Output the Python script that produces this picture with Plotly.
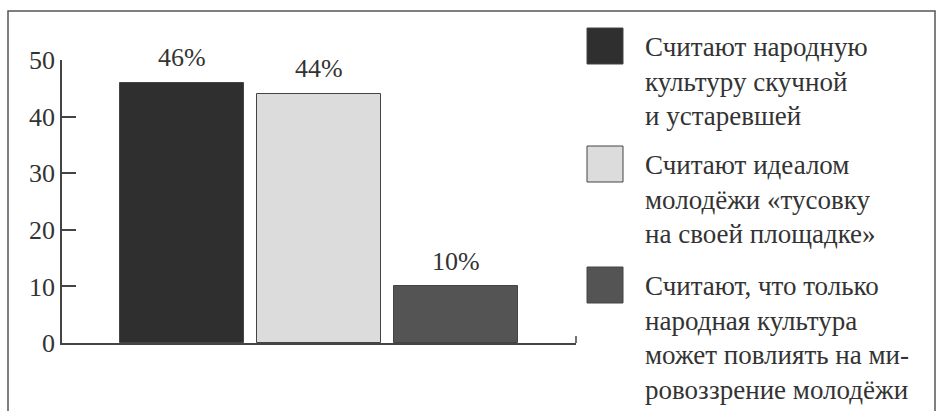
import plotly.graph_objects as go

# Survey results: share of respondents per opinion
categories = ["Считают народную культуру скучной и устаревшей",
              "Считают идеалом молодёжи «тусовку на своей площадке»",
              "Считают, что только народная культура может повлиять на мировоззрение молодёжи"]
values = [46, 44, 10]
value_labels = ["46%", "44%", "10%"]
legend_lines = [
    ["Считают народную", "культуру скучной", "и устаревшей"],
    ["Считают идеалом", "молодёжи «тусовку", "на своей площадке»"],
    ["Считают, что только", "народная культура", "может повлиять на ми-", "ровоззрение молодёжи"],
]
bar_colors = ["#2f2f2f", "#dcdcdc", "#545454"]
y_ticks = [0, 10, 20, 30, 40, 50]

FONT = "'Times New Roman', 'Liberation Serif', 'DejaVu Serif', serif"
TXT = "#333333"
W, H = 938, 411
ML, MR, MT, MB = 62, 362, 60, 68
PW, PH = W - ML - MR, H - MT - MB


def px_x(px):
    return (px - ML) / PW


def px_y(py):
    return (H - MB - py) / PH


xs = list(range(len(values)))
fig = go.Figure()
fig.add_trace(go.Bar(
    x=xs, y=values, width=0.91,
    marker=dict(color=bar_colors, line=dict(color="#444444", width=1)),
    showlegend=False, hovertext=categories,
))

shapes = [
    # outer frame (open at the bottom)
    dict(type="path", xref="paper", yref="paper",
         path=f"M {px_x(8)} {px_y(420)} L {px_x(8)} {px_y(11)} L {px_x(935)} {px_y(11)} L {px_x(935)} {px_y(420)}",
         line=dict(color="#555555", width=1.5)),
    # small end tick of the x axis
    dict(type="line", xref="paper", yref="paper",
         x0=1, x1=1, y0=0, y1=px_y(336),
         line=dict(color="#444444", width=1.5)),
]

# value labels above the bars
annotations = [
    dict(text=lbl, x=x, y=v, xref="x", yref="y", showarrow=False,
         yanchor="middle", yshift=25,
         font=dict(family=FONT, size=26, color=TXT))
    for x, v, lbl in zip(xs, values, value_labels)
]

# legend: swatch + multi-line caption for each category
swatch_tops = [28, 146, 267]
line_h = 34.5
for i, lines in enumerate(legend_lines):
    top = swatch_tops[i]
    shapes.append(dict(type="rect", xref="paper", yref="paper",
                       x0=px_x(587), x1=px_x(623), y0=px_y(top + 36), y1=px_y(top),
                       fillcolor=bar_colors[i], line=dict(color="#444444", width=1)))
    for j, ln in enumerate(lines):
        annotations.append(dict(
            text=ln, xref="paper", yref="paper",
            x=px_x(643), y=px_y(top + 19 + j * line_h),
            xanchor="left", yanchor="middle", showarrow=False,
            font=dict(family=FONT, size=27, color=TXT)))

fig.update_layout(
    width=W, height=H,
    margin=dict(l=ML, r=MR, t=MT, b=MB),
    paper_bgcolor="white", plot_bgcolor="white",
    font=dict(family=FONT, color=TXT),
    shapes=shapes, annotations=annotations,
    bargap=0,
    xaxis=dict(range=[-0.876, 2.876], showticklabels=False, ticks="",
               showgrid=False, zeroline=False, showline=True,
               linecolor="#444444", linewidth=1.5),
    yaxis=dict(range=[0, 50], tickvals=y_ticks, ticks="inside", ticklen=14,
               tickwidth=1.5, tickcolor="#444444",
               showgrid=False, zeroline=False, showline=True,
               linecolor="#444444", linewidth=1.5,
               tickfont=dict(family=FONT, size=26, color=TXT)),
)

fig.write_html("out.html")
